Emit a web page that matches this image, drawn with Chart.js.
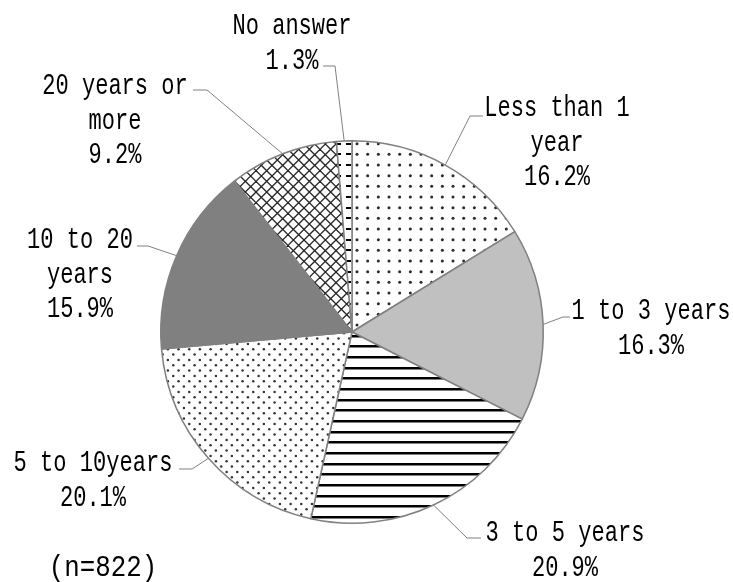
<!DOCTYPE html>
<html>
<head>
<meta charset="utf-8">
<script src="https://cdn.jsdelivr.net/npm/chart.js@4"></script>
<style>
  html, body { margin: 0; padding: 0; background: #fff; }
  #wrap { width: 733px; height: 582px; position: relative; }
</style>
</head>
<body>
<div id="wrap"><canvas id="pieChart"></canvas></div>
<script>
// categories (label lines) and shares in %
const categories = [
    ['Less than 1', 'year'],
    ['1 to 3 years'],
    ['3 to 5 years'],
    ['5 to 10years'],
    ['10 to 20', 'years'],
    ['20 years or', 'more'],
    ['No answer']
];
const shares = [16.2, 16.3, 20.9, 20.1, 15.9, 9.2, 1.3];
const sampleNote = '(n=822)';

// label placement: first baseline, center x, leader elbow and tail
const labelLayout = [
    { cx: 557, base: 116, elbow: [470, 116], tail: [483, 116] },
    { cx: 651, base: 319, elbow: [563, 317], tail: [570, 317] },
    { cx: 565, base: 541, elbow: [467, 538], tail: [481, 538] },
    { cx: 93,  base: 471, elbow: [192, 469], tail: [179, 469] },
    { cx: 80,  base: 248, elbow: [148, 246], tail: [137, 246] },
    { cx: 115, base: 94,  elbow: [207, 90],  tail: [193, 90] },
    { cx: 292, base: 34,  elbow: [335, 66],  tail: [323, 66] }
];
const LINE_H = 34.5;
const P = 32 / 3; // pattern period

function tile(draw) {
    const c = document.createElement('canvas');
    c.width = 32; c.height = 32;
    const g = c.getContext('2d');
    g.fillStyle = '#fff';
    g.fillRect(0, 0, 32, 32);
    draw(g);
    return document.createElement('canvas').getContext('2d').createPattern(c, 'repeat');
}

const sparseDots = tile(g => {
    g.fillStyle = '#2a2a2a';
    for (let i = 0; i < 3; i++) for (let j = 0; j < 3; j++) {
        g.beginPath(); g.arc(i * P + 5, j * P + 5, 1.5, 0, Math.PI * 2); g.fill();
    }
});
const denseDots = tile(g => {
    g.fillStyle = '#333';
    for (let i = 0; i < 3; i++) for (let j = 0; j < 3; j++) {
        g.beginPath(); g.arc(i * P + 2.6, j * P + 2.6, 1.25, 0, Math.PI * 2); g.fill();
        g.beginPath(); g.arc(i * P + 7.9, j * P + 7.9, 1.25, 0, Math.PI * 2); g.fill();
    }
});
const hLines = tile(g => {
    g.fillStyle = '#000';
    for (let j = 0; j < 3; j++) g.fillRect(0, Math.round(j * P) + 4, 32, 2.5);
});
const crossHatch = tile(g => {
    g.strokeStyle = '#222';
    g.lineWidth = 1.3;
    for (let c = -32; c <= 64; c += P) {
        g.beginPath(); g.moveTo(c, 0); g.lineTo(c + 32, 32); g.stroke();
        g.beginPath(); g.moveTo(c, 0); g.lineTo(c - 32, 32); g.stroke();
    }
});
const dashes = tile(g => {
    g.fillStyle = '#000';
    for (let i = 0; i < 3; i++) for (let j = 0; j < 3; j++) {
        g.fillRect(Math.round(i * P) + 5, Math.round(j * P) + 4, 5, 2);
    }
});

const fills = [sparseDots, '#c0c0c0', hLines, denseDots, '#808080', crossHatch, dashes];

function drawText(ctx, txt, x, y, sx) {
    ctx.save();
    ctx.translate(x, y);
    ctx.scale(sx || 0.735, 1);
    ctx.fillText(txt, 0, 0);
    ctx.restore();
}

const labelPlugin = {
    id: 'pieLabels',
    afterDraw(chart) {
        const ctx = chart.ctx;
        const arcs = chart.getDatasetMeta(0).data;
        ctx.save();
        ctx.font = '30px "Liberation Mono", "DejaVu Sans Mono", monospace';
        ctx.textAlign = 'center';
        ctx.textBaseline = 'alphabetic';
        arcs.forEach((arc, i) => {
            const lay = labelLayout[i];
            const mid = (arc.startAngle + arc.endAngle) / 2;
            const ax = arc.x + Math.cos(mid) * arc.outerRadius;
            const ay = arc.y + Math.sin(mid) * arc.outerRadius;
            ctx.strokeStyle = '#808080';
            ctx.lineWidth = 1;
            ctx.beginPath();
            ctx.moveTo(ax, ay);
            ctx.lineTo(lay.elbow[0], lay.elbow[1]);
            ctx.lineTo(lay.tail[0], lay.tail[1]);
            ctx.stroke();

            ctx.fillStyle = '#000';
            const lines = categories[i].concat([shares[i].toFixed(1) + '%']);
            lines.forEach((ln, k) => drawText(ctx, ln, lay.cx, lay.base + k * LINE_H));
        });
        drawText(ctx, sampleNote, 103, 576, 0.86);
        ctx.restore();
    }
};

new Chart(document.getElementById('pieChart').getContext('2d'), {
    type: 'pie',
    data: {
        labels: categories,
        datasets: [{
            data: shares,
            backgroundColor: fills,
            borderColor: '#808080',
            borderWidth: 1.5
        }]
    },
    options: {
        responsive: true,
        maintainAspectRatio: false,
        animation: false,
        layout: { padding: { top: 140, bottom: 58, left: 150, right: 179 } },
        plugins: { legend: { display: false }, tooltip: { enabled: false } }
    },
    plugins: [labelPlugin]
});
</script>
</body>
</html>
